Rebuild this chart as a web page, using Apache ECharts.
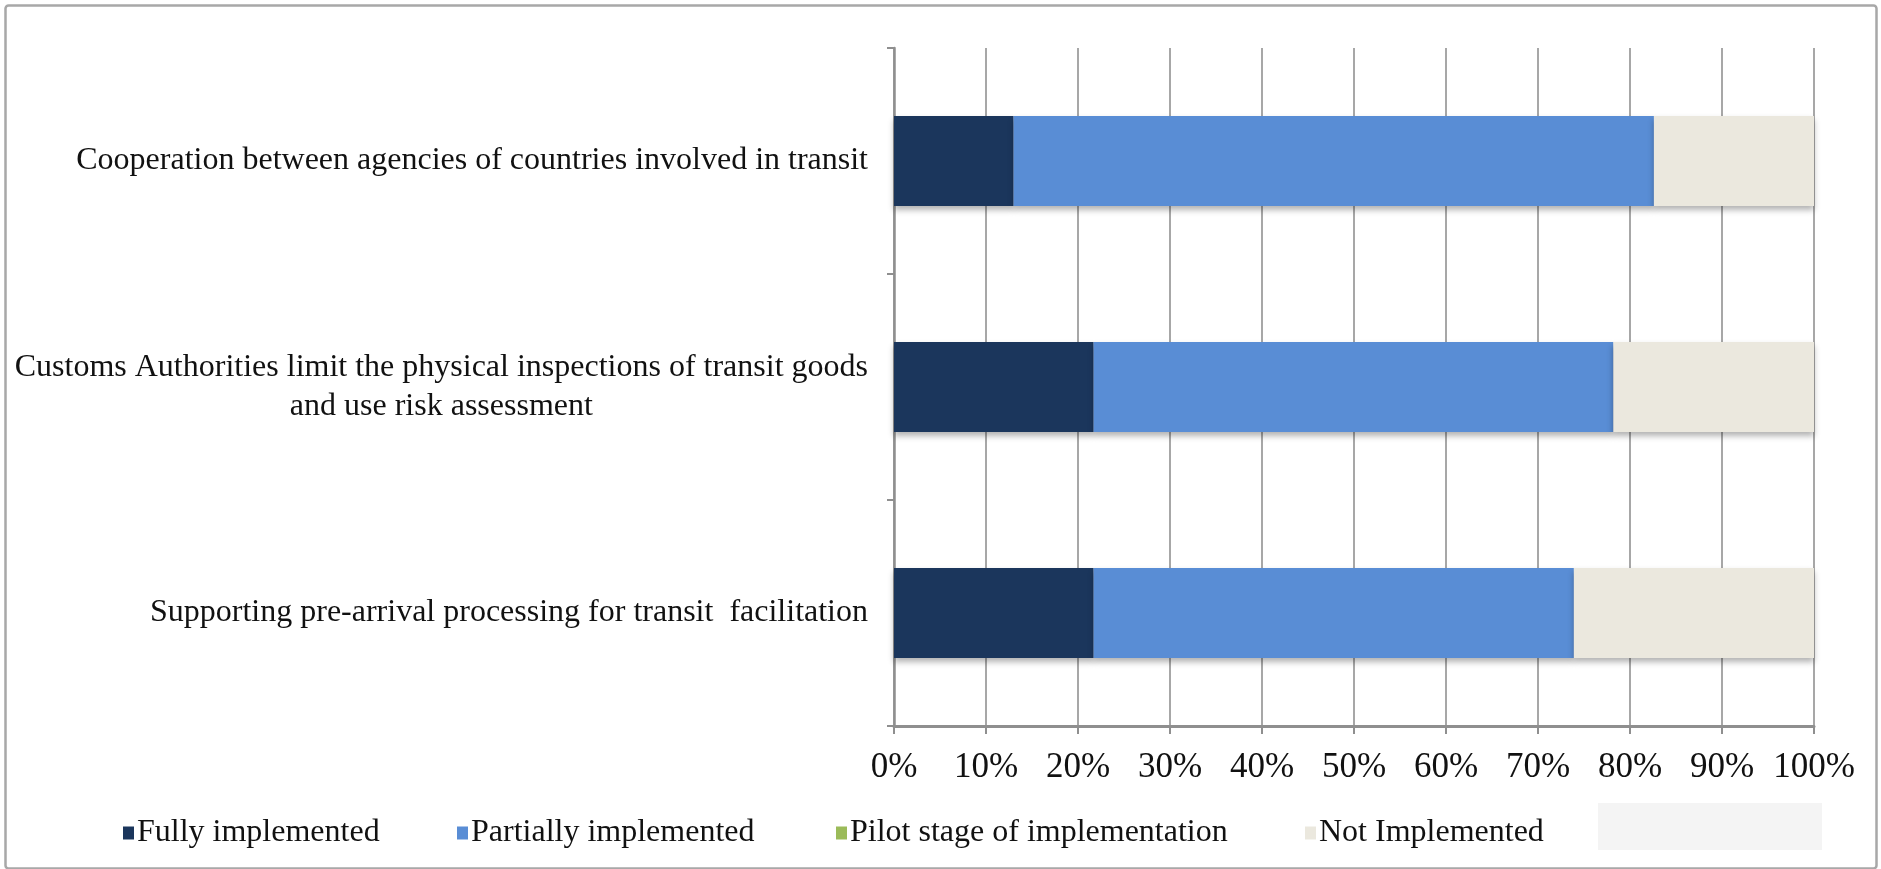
<!DOCTYPE html>
<html>
<head>
<meta charset="utf-8">
<script src="https://cdn.jsdelivr.net/npm/echarts@6/dist/echarts.min.js"></script>
<style>
html,body{margin:0;padding:0;background:#fff;}
#chart{width:1881px;height:869px;}
</style>
</head>
<body>
<div id="chart"></div>
<script>
// Categories listed bottom-to-top (ECharts category y-axis order)
const categories = [
  'Supporting pre-arrival processing for transit  facilitation',
  'Customs Authorities limit the physical inspections of transit goods\nand use risk assessment',
  'Cooperation between agencies of countries involved in transit'
];
const seriesNames = ['Fully implemented', 'Partially implemented', 'Pilot stage of implementation', 'Not Implemented'];
const fullyImplemented = [21.7, 21.7, 13.0];
const partiallyImplemented = [52.2, 56.5, 69.6];
const pilotStage = [0, 0, 0];
const notImplemented = [26.1, 21.8, 17.4];
const xTicks = [0, 10, 20, 30, 40, 50, 60, 70, 80, 90, 100];

const colors = ['#1b365c', '#598dd5', '#9bbb59', '#ebe8de'];
const seriesData = [fullyImplemented, partiallyImplemented, pilotStage, notImplemented];
const FONT = '"Liberation Serif", "Times New Roman", serif';

const chart = echarts.init(document.getElementById('chart'));

const legendLefts = [123, 457, 836, 1305];

const option = {
  backgroundColor: '#ffffff',
  animation: false,
  grid: { left: 894, right: 67, top: 48, bottom: 143, containLabel: false },
  legend: seriesNames.map((n, i) => ({
    data: [n],
    left: legendLefts[i],
    top: 817,
    icon: 'rect',
    itemWidth: 11,
    itemHeight: 13,
    itemGap: 0,
    padding: 0,
    selectedMode: false,
    textStyle: { fontFamily: FONT, fontSize: 32, color: '#111', padding: [0, 0, 0, -2] }
  })),
  xAxis: {
    type: 'value',
    min: 0, max: 100, interval: 10,
    axisLine: { show: true, lineStyle: { color: '#8f8f8f', width: 3 } },
    axisTick: { show: true, length: 8, lineStyle: { color: '#8f8f8f', width: 2 } },
    splitLine: { show: true, lineStyle: { color: '#8a8a8a', width: 1.5 } },
    axisLabel: {
      margin: 24,
      fontFamily: FONT, fontSize: 35, color: '#111',
      formatter: v => (xTicks.indexOf(v) >= 0 ? v + '%' : '')
    }
  },
  yAxis: {
    type: 'category',
    data: categories,
    axisLine: { show: true, lineStyle: { color: '#8f8f8f', width: 2.5 } },
    axisTick: { show: true, length: 7, lineStyle: { color: '#8f8f8f', width: 2 } },
    axisLabel: {
      margin: 26,
      fontFamily: FONT, fontSize: 32, color: '#111', lineHeight: 39,
      formatter: v => v.split('\n').map(s => '{c|' + s + '}').join('\n'),
      rich: { c: { align: 'center', fontFamily: FONT, fontSize: 32, color: '#111', lineHeight: 39 } }
    }
  },
  graphic: [
    { type: 'rect', left: 3, top: 3, shape: { width: 1871, height: 863, r: 3 }, style: { fill: 'none', stroke: '#a8a8a8', lineWidth: 2.5 }, z: -1 },
    { type: 'rect', left: 1598, top: 803, shape: { width: 224, height: 47 }, style: { fill: '#f4f4f4' }, z: -1 }
  ],
  series: seriesNames.map((n, i) => ({
    name: n,
    type: 'bar',
    stack: 'total',
    barWidth: 90,
    data: seriesData[i],
    itemStyle: {
      color: colors[i],
      shadowColor: 'rgba(0,0,0,0.3)',
      shadowBlur: 6,
      shadowOffsetY: 4
    }
  }))
};
chart.setOption(option);
</script>
</body>
</html>
